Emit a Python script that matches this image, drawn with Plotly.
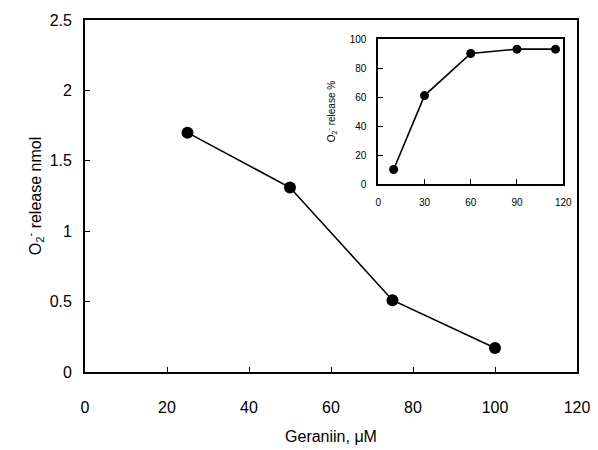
import plotly.graph_objects as go

geraniin_uM = [25, 50, 75, 100]
o2_release_nmol = [1.70, 1.31, 0.51, 0.17]

inset_x = [10, 30, 60, 90, 115]
inset_release_pct = [10, 61, 90, 93, 93]

main_xticks = [0, 20, 40, 60, 80, 100, 120]
main_yticks = [0, 0.5, 1, 1.5, 2, 2.5]
main_yticklabels = ["0", "0.5", "1", "1.5", "2", "2.5"]
inset_xticks = [0, 30, 60, 90, 120]
inset_yticks = [0, 20, 40, 60, 80, 100]

FONT = "Liberation Sans, Arial, sans-serif"

fig = go.Figure()
fig.add_trace(go.Scatter(
    x=geraniin_uM, y=o2_release_nmol, mode="lines+markers",
    line=dict(color="black", width=1.6),
    marker=dict(color="black", size=12),
    xaxis="x", yaxis="y", showlegend=False))
fig.add_trace(go.Scatter(
    x=inset_x, y=inset_release_pct, mode="lines+markers",
    line=dict(color="black", width=1.6),
    marker=dict(color="black", size=9),
    xaxis="x2", yaxis="y2", showlegend=False))

axis_common = dict(showgrid=False, zeroline=False, showline=True, linecolor="black",
                   linewidth=1.8, mirror=True, ticks="inside", tickcolor="black",
                   ticklen=5, tickwidth=1, automargin=False)

fig.update_layout(
    width=598, height=450,
    margin=dict(l=77, r=29, t=12, b=86),
    paper_bgcolor="white", plot_bgcolor="white",
    font=dict(family=FONT, color="black"),
    xaxis=dict(range=[0, 120], tickvals=main_xticks, domain=[0, 1],
               tickfont=dict(size=16), ticklabelstandoff=20,
               title=dict(text="Geraniin, μM", font=dict(size=16), standoff=16),
               **axis_common),
    yaxis=dict(range=[0, 2.5], tickvals=main_yticks, ticktext=main_yticklabels,
               domain=[0, 1], tickfont=dict(size=16), ticklabelstandoff=8,
               title=dict(text="O<sub>2</sub><sup>-</sup> release nmol", font=dict(size=16), standoff=4),
               **axis_common),
    xaxis2=dict(range=[0, 120], tickvals=inset_xticks, domain=[0.596, 0.972],
                anchor="y2", tickfont=dict(size=10), ticklabelstandoff=8,
                **axis_common),
    yaxis2=dict(range=[0, 100], tickvals=inset_yticks, domain=[0.534, 0.946],
                anchor="x2", tickfont=dict(size=10), ticklabelstandoff=8,
                title=dict(text="O<sub>2</sub><sup>-</sup> release %", font=dict(size=10), standoff=12),
                **axis_common),
)

fig.write_html("out.html")
